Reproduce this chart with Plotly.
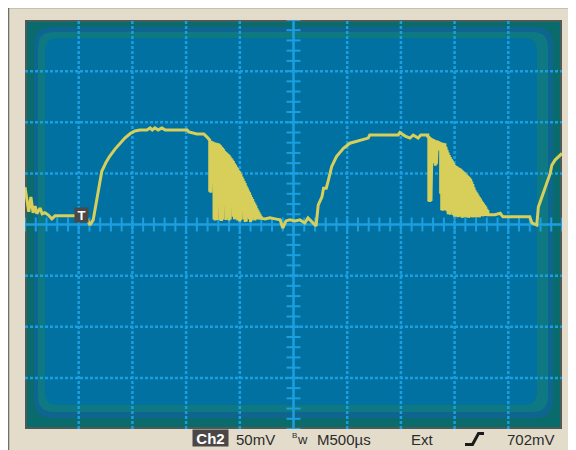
import plotly.graph_objects as go

# ---------------- data (screen divisions: x 0..10 at 500 us/div, y -4..4 at 50 mV/div) ----------------
seg_a_t = [0.00, 0.04, 0.07, 0.11, 0.15, 0.19, 0.22, 0.28, 0.32, 0.37, 0.43, 0.50, 0.56, 0.65, 0.95,
           1.14, 1.21, 1.27, 1.34, 1.43, 1.51, 1.58, 1.68, 1.77, 1.86, 1.96, 2.05, 2.14, 2.27, 2.33,
           2.37, 2.42, 2.48, 2.55, 2.61, 3.02, 3.05, 3.20, 3.33, 3.39]
seg_a_v = [0.73, 0.48, 0.25, 0.54, 0.23, 0.36, 0.21, 0.32, 0.21, 0.23, 0.19, 0.11, 0.17, 0.17, 0.17,
           0.15, -0.01, 0.09, 0.48, 1.04, 1.22, 1.34, 1.48, 1.59, 1.69, 1.78, 1.83, 1.85, 1.85, 1.89,
           1.85, 1.89, 1.85, 1.89, 1.85, 1.85, 1.81, 1.77, 1.77, 1.71]

burst1_t = [3.44, 3.46, 3.48, 3.50, 3.52, 3.54, 3.56, 3.58, 3.60, 3.62, 3.64, 3.66, 3.68, 3.70, 3.72,
            3.74, 3.76, 3.78, 3.80, 3.82, 3.84, 3.86, 3.88, 3.90, 3.92, 3.94, 3.96, 3.98, 4.00, 4.02,
            4.04, 4.06, 4.08, 4.10, 4.12, 4.14, 4.16, 4.18, 4.20, 4.22, 4.24, 4.26, 4.28, 4.30, 4.32,
            4.34, 4.36, 4.38, 4.40, 4.42]
burst1_hi = [1.65, 1.64, 1.63, 1.62, 1.61, 1.60, 1.60, 1.59, 1.59, 1.57, 1.55, 1.52, 1.50, 1.47, 1.44,
             1.42, 1.40, 1.38, 1.36, 1.33, 1.30, 1.27, 1.24, 1.20, 1.17, 1.13, 1.10, 1.06, 1.03, 0.99,
             0.94, 0.90, 0.85, 0.81, 0.76, 0.72, 0.67, 0.63, 0.58, 0.54, 0.50, 0.45, 0.41, 0.37, 0.32,
             0.28, 0.24, 0.20, 0.16, 0.14]
burst1_lo = [0.64, 0.62, 1.55, 1.50, 0.10, 0.08, 0.12, 0.09, 0.60, 0.40, 0.08, 0.07, 0.10, 0.50, 0.45,
             0.09, 0.12, 0.30, 0.08, 0.10, 0.50, 0.35, 0.15, 0.10, 0.30, 0.12, 0.08, 0.20, 0.06, 0.09,
             0.40, 0.25, 0.10, 0.05, 0.06, 0.30, 0.15, 0.10, 0.05, 0.08, 0.20, 0.12, 0.08, 0.15, 0.10,
             0.12, 0.10, 0.13, 0.10, 0.12]

seg_b_t = [4.47, 4.56, 4.66, 4.75, 4.80, 4.86, 4.93, 5.03, 5.12, 5.21, 5.27, 5.34, 5.42, 5.46, 5.53,
           5.56, 5.61, 5.65, 5.71, 5.80, 5.93, 6.05, 6.24, 6.39, 6.42, 6.95, 6.98, 7.08, 7.17, 7.23,
           7.32, 7.37, 7.48]
seg_b_v = [0.11, 0.13, 0.11, 0.09, -0.07, 0.07, 0.09, 0.07, 0.09, 0.03, 0.13, 0.05, -0.03, 0.38, 0.54,
           0.71, 0.71, 0.87, 1.13, 1.33, 1.49, 1.59, 1.65, 1.69, 1.75, 1.75, 1.80, 1.73, 1.69, 1.75,
           1.69, 1.75, 1.75]

burst2_t = [7.50, 7.52, 7.54, 7.56, 7.58, 7.60, 7.62, 7.64, 7.66, 7.68, 7.70, 7.72, 7.74, 7.76, 7.78,
            7.80, 7.82, 7.84, 7.86, 7.88, 7.90, 7.92, 7.94, 7.96, 7.98, 8.00, 8.02, 8.04, 8.06, 8.08,
            8.10, 8.12, 8.14, 8.16, 8.18, 8.20, 8.22, 8.24, 8.26, 8.28, 8.30, 8.32, 8.34, 8.36, 8.38,
            8.40, 8.42, 8.44, 8.46, 8.48, 8.50, 8.52, 8.54, 8.56, 8.58, 8.60, 8.62]
burst2_hi = [1.75, 1.73, 1.71, 1.69, 1.68, 1.67, 1.66, 1.65, 1.65, 1.64, 1.63, 1.62, 1.61, 1.60, 1.60,
             1.59, 1.59, 1.52, 1.46, 1.41, 1.36, 1.32, 1.28, 1.25, 1.21, 1.17, 1.15, 1.14, 1.12, 1.11,
             1.10, 1.08, 1.06, 1.04, 1.02, 1.00, 0.98, 0.96, 0.94, 0.92, 0.89, 0.84, 0.79, 0.73, 0.68,
             0.64, 0.61, 0.57, 0.54, 0.51, 0.47, 0.44, 0.41, 0.38, 0.35, 0.31, 0.28]
burst2_lo = [1.70, 0.45, 0.44, 0.46, 1.60, 1.62, 1.20, 1.15, 1.18, 1.55, 1.50, 1.45, 0.60, 0.28, 0.27,
             0.30, 0.28, 0.80, 0.26, 0.20, 0.22, 0.19, 0.60, 0.25, 0.18, 0.15, 0.50, 0.16, 0.14, 0.30,
             0.15, 0.16, 0.13, 0.40, 0.15, 0.14, 0.20, 0.15, 0.13, 0.35, 0.16, 0.14, 0.14, 0.25, 0.15,
             0.14, 0.18, 0.15, 0.14, 0.20, 0.17, 0.16, 0.18, 0.17, 0.18, 0.17, 0.19]

seg_c_t = [8.66, 8.75, 8.85, 8.90, 9.40, 9.44, 9.53, 9.56, 9.65, 9.78, 9.81, 9.87, 10.00]
seg_c_v = [0.19, 0.19, 0.22, 0.15, 0.15, 0.03, -0.01, 0.34, 0.61, 1.00, 1.16, 1.26, 1.39]

channel_label = "Ch2"
volts_div = "50mV"
time_div = "M500µs"
trig_source = "Ext"
trig_level = "702mV"


def burst(ts, hi, lo):
    xs, ys = [], []
    for t, h, l in zip(ts, hi, lo):
        xs += [t, t]
        ys += [h, l]
    return xs, ys


b1x, b1y = burst(burst1_t, burst1_hi, burst1_lo)
b2x, b2y = burst(burst2_t, burst2_hi, burst2_lo)
trace_x = seg_a_t + b1x + seg_b_t + b2x + seg_c_t
trace_y = seg_a_v + b1y + seg_b_v + b2y + seg_c_v

# ---------------- styling helpers ----------------
OFF = 8                          # page body margin
FIG_W, FIG_H = 576 - OFF, 450 - OFF
L, T, W, H = 25, 20, 537, 409    # plot area in page pixels


def px(x):
    return (x - L) / W


def py(y):
    return 1 - (y - T) / H


def rrect(x0, y0, x1, y1, r, color):
    rx, ry = r / W, r / H
    X0, X1, Yb, Yt = px(x0), px(x1), py(y1), py(y0)
    path = (f"M{X0+rx},{Yt} L{X1-rx},{Yt} Q{X1},{Yt} {X1},{Yt-ry} L{X1},{Yb+ry} "
            f"Q{X1},{Yb} {X1-rx},{Yb} L{X0+rx},{Yb} Q{X0},{Yb} {X0},{Yb+ry} "
            f"L{X0},{Yt-ry} Q{X0},{Yt} {X0+rx},{Yt} Z")
    return dict(type="path", path=path, xref="paper", yref="paper", layer="below",
                fillcolor=color, line=dict(width=0))


GRID = "#1c9fe0"
TRACE = "#d8ce5a"
FONT = "Liberation Sans, Arial, sans-serif"

shapes = [
    dict(type="rect", xref="paper", yref="paper", x0=px(8.5), x1=px(600), y0=py(480), y1=py(7.5),
         fillcolor="#e4dccb", line=dict(color="#6e6e6e", width=1.5), layer="below"),
    dict(type="rect", xref="paper", yref="paper", x0=0, x1=1, y0=0, y1=1,
         fillcolor="#0a6b6c", line=dict(width=0), layer="below"),
    rrect(34, 27, 553, 418, 18, "#0d6590"),
    rrect(38, 32, 548, 412, 15, "#0e7883"),
    rrect(45, 38, 537, 405, 13, "#0071a1"),
    dict(type="rect", xref="paper", yref="paper", x0=px(26), x1=px(561), y0=py(428), y1=py(21),
         fillcolor="rgba(0,0,0,0)", line=dict(color="#4e5a58", width=2), layer="below"),
]
# dotted graticule
for gx in [1, 2, 3, 4, 6, 7, 8, 9]:
    shapes.append(dict(type="line", xref="x", yref="y", x0=gx, x1=gx, y0=-4, y1=4, layer="below",
                       line=dict(color=GRID, width=2.5, dash="3px,2px")))
for gy in [-3, -2, -1, 1, 2, 3]:
    shapes.append(dict(type="line", xref="x", yref="y", x0=0, x1=10, y0=gy, y1=gy, layer="below",
                       line=dict(color=GRID, width=2.5, dash="3px,2px")))
# centre axes
shapes.append(dict(type="line", xref="x", yref="y", x0=5, x1=5, y0=-4, y1=4, layer="below",
                   line=dict(color=GRID, width=2.5)))
shapes.append(dict(type="line", xref="x", yref="y", x0=0, x1=10, y0=0, y1=0, layer="below",
                   line=dict(color=GRID, width=2.5)))
# trigger slope symbol
shapes.append(dict(type="path", xref="paper", yref="paper",
                   path=f"M{px(465)},{py(444.5)} L{px(472.5)},{py(444.5)} L{px(478.5)},{py(433.5)} L{px(484)},{py(433.5)}",
                   line=dict(color="#1a1a1a", width=3)))

fig = go.Figure()

minor = [i * 0.2 for i in range(51)]
fig.add_trace(go.Scatter(x=minor, y=[0] * len(minor), mode="markers", hoverinfo="skip",
                         marker=dict(symbol="line-ns", size=10, line=dict(color=GRID, width=2))))
minor_y = [-4 + i * 0.2 for i in range(41)]
fig.add_trace(go.Scatter(x=[5] * len(minor_y), y=minor_y, mode="markers", hoverinfo="skip",
                         marker=dict(symbol="line-ew", size=10, line=dict(color=GRID, width=2))))

fig.add_trace(go.Scatter(x=trace_x, y=trace_y, mode="lines",
                         line=dict(color=TRACE, width=3), hoverinfo="skip"))

txt = dict(showarrow=False, xref="paper", yref="paper", yanchor="middle",
           font=dict(family=FONT, size=15, color="#2b2b2b"))
annotations = [
    dict(x=1.061, y=0.19, xref="x", yref="y", text="<b>T</b>", showarrow=False,
         font=dict(family=FONT, size=13, color="white"), bgcolor="#4b4848",
         width=11, height=12, borderpad=1, xanchor="center", yanchor="middle"),
    dict(x=px(210.75), y=py(438), xref="paper", yref="paper", text=f"<b>{channel_label}</b>",
         showarrow=False, font=dict(family=FONT, size=15, color="white"), bgcolor="#4b4747",
         width=33, height=14, borderpad=1, xanchor="center", yanchor="middle"),
    dict(txt, x=px(234), y=py(439), text=volts_div, xanchor="left"),
    dict(txt, x=px(290), y=py(435.5), text="B", xanchor="left",
         font=dict(family=FONT, size=8, color="#2b2b2b")),
    dict(txt, x=px(294.5), y=py(439), text="w", xanchor="left",
         font=dict(family=FONT, size=13, color="#2b2b2b")),
    dict(txt, x=px(315), y=py(439), text=time_div, xanchor="left"),
    dict(txt, x=px(409), y=py(439), text=trig_source, xanchor="left"),
    dict(txt, x=px(505), y=py(439), text=trig_level, xanchor="left"),
]

fig.update_layout(
    width=FIG_W, height=FIG_H, autosize=False,
    margin=dict(l=L - OFF, r=FIG_W - (L - OFF) - W, t=T - OFF, b=FIG_H - (T - OFF) - H, pad=0),
    paper_bgcolor="#e4dccb", plot_bgcolor="rgba(0,0,0,0)",
    showlegend=False,
    xaxis=dict(range=[0, 10], visible=False, fixedrange=True),
    yaxis=dict(range=[-4, 4], visible=False, fixedrange=True),
    shapes=shapes, annotations=annotations,
)

fig.write_html("out.html")
